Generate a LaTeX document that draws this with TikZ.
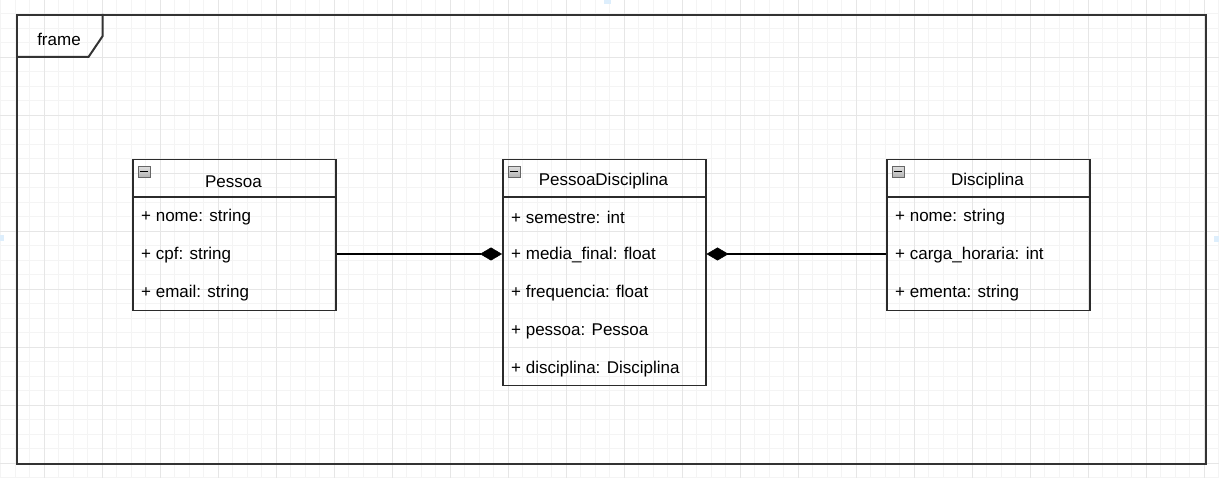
\documentclass[tikz,border=0pt]{standalone}
\usepackage{fontspec}
\setmainfont{Liberation Sans}
\usetikzlibrary{arrows.meta}
\definecolor{gridminor}{HTML}{F4F4F4}
\definecolor{gridmajor}{HTML}{E6E6E6}
\definecolor{edge}{HTML}{2B2B2B}
\definecolor{framec}{HTML}{333333}
\definecolor{pagemarkc}{HTML}{DDEEFC}
\tikzset{
  umlbox/.style={draw=edge, line width=1.5pt, rectangle, inner sep=0pt, minimum width=203pt, anchor=north west},
  headline/.style={draw=edge, line width=1.5pt},
  title/.style={font=\fontsize{17pt}{20pt}\selectfont, inner sep=0pt},
  attr/.style={font=\fontsize{17pt}{20pt}\selectfont, inner sep=0pt, anchor=west},
  icon/.style={draw=gray!80!black, line width=0.6pt, top color=gray!25, bottom color=gray!60, minimum width=12pt, minimum height=11pt, inner sep=0pt, anchor=north west},
  compo/.style={draw=black, line width=1.3pt, -{Diamond[length=22pt, width=13pt, line width=0.5pt]}},
}
\begin{document}
\begin{tikzpicture}[x=1pt,y=-1pt]
\useasboundingbox (0,0) rectangle (1219,478);
% grid
\foreach \i in {0,...,84} {
  \pgfmathsetmacro{\gx}{0.8+14.5*\i}
  \draw[gridminor, line width=0.7pt] (\gx,0) -- (\gx,478);
}
\foreach \j in {0,...,33} {
  \pgfmathsetmacro{\gy}{13.5+14.5*\j}
  \draw[gridminor, line width=0.7pt] (0,\gy) -- (1219,\gy);
}
\foreach \i in {0,...,20} {
  \pgfmathsetmacro{\gx}{44.3+58*\i}
  \draw[gridmajor, line width=0.7pt] (\gx,0) -- (\gx,478);
}
\foreach \j in {-1,...,7} {
  \pgfmathsetmacro{\gy}{115+58*\j}
  \draw[gridmajor, line width=0.7pt] (0,\gy) -- (1219,\gy);
}
% page markers
\fill[pagemarkc] (604,0) rectangle (611,4);
\fill[pagemarkc] (0,235) rectangle (4,241);
\fill[pagemarkc] (1214,236) rectangle (1219,242);
% frame
\node[draw=framec, line width=2pt, rectangle, inner sep=0pt, minimum width=1189pt, minimum height=449pt, anchor=north west] (frame) at (16,14) {};
\draw[framec, line width=2pt, line join=miter] (16,57) -- (88.5,57) -- (102.7,36) -- (102.7,14);
\node[title] (framelabel) at (59,39.5) {frame};
% Pessoa
\node[umlbox, minimum height=151pt] (pessoa) at (132,159) {};
\draw[headline] (132,197) -- (335,197);
\node[icon] (pessoaicon) at (138,166) {};
\draw[black, line width=1.2pt] (pessoaicon.west) ++(2,0) -- ++(8,0);
\node[title] (pessoatitle) at (233.5,181.5) {Pessoa};
\node[attr] (p1) at (141,217.5) {+ nome: string};
\node[attr] (p2) at (141,255.5) {+ cpf: string};
\node[attr] (p3) at (141,293.5) {+ email: string};
% PessoaDisciplina
\node[umlbox, minimum height=226pt] (pd) at (502,159) {};
\draw[headline] (502,197) -- (705,197);
\node[icon] (pdicon) at (508,166) {};
\draw[black, line width=1.2pt] (pdicon.west) ++(2,0) -- ++(8,0);
\node[title] (pdtitle) at (603.5,181.5) {PessoaDisciplina};
\node[attr] (q1) at (511,217.5) {+ semestre: int};
\node[attr] (q2) at (511,255.5) {+ media\_final: float};
\node[attr] (q3) at (511,293.5) {+ frequencia: float};
\node[attr] (q4) at (511,331.5) {+ pessoa: Pessoa};
\node[attr] (q5) at (511,369.5) {+ disciplina: Disciplina};
% Disciplina
\node[umlbox, minimum height=151pt] (disc) at (886,159) {};
\draw[headline] (886,197) -- (1089,197);
\node[icon] (discicon) at (892,166) {};
\draw[black, line width=1.2pt] (discicon.west) ++(2,0) -- ++(8,0);
\node[title] (disctitle) at (987.5,181.5) {Disciplina};
\node[attr] (d1) at (895,217.5) {+ nome: string};
\node[attr] (d2) at (895,255.5) {+ carga\_horaria: int};
\node[attr] (d3) at (895,293.5) {+ ementa: string};
% connectors (at the row centre line y=254)
\coordinate (rowline) at (0,254);
\draw[compo] (pessoa.east |- rowline) -- (pd.west |- rowline);
\draw[compo] (disc.west |- rowline) -- (pd.east |- rowline);
\end{tikzpicture}
\end{document}
